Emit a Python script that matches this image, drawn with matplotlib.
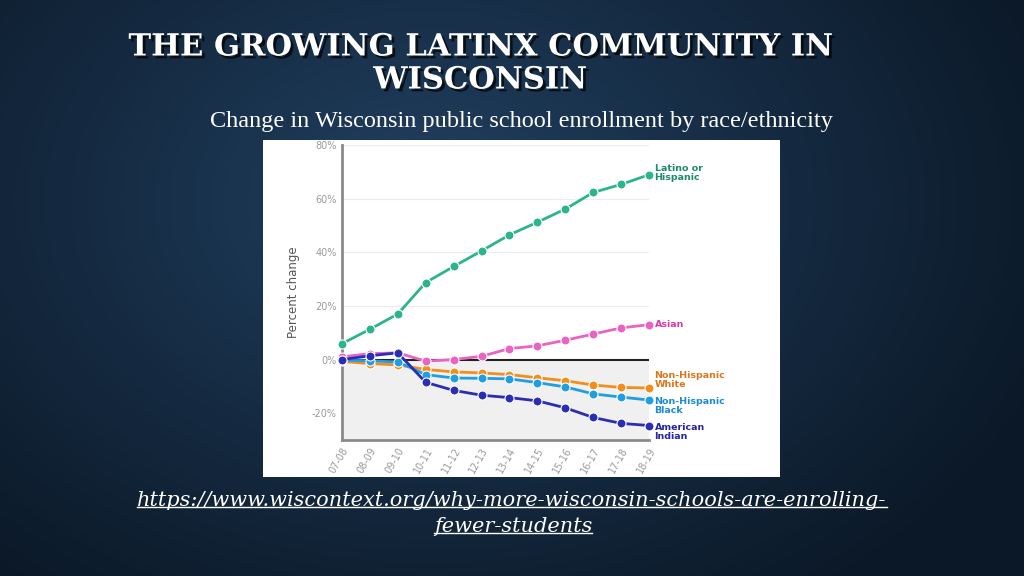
import numpy as np
import matplotlib
matplotlib.use("Agg")
import matplotlib.pyplot as plt
import matplotlib.patheffects as pe
from matplotlib.patches import Rectangle

# data (percent change since 07-08)
years = ["07-08", "08-09", "09-10", "10-11", "11-12", "12-13",
         "13-14", "14-15", "15-16", "16-17", "17-18", "18-19"]
latino = [5.9, 11.3, 17.0, 28.7, 34.7, 40.5, 46.5, 51.2, 56.1, 62.3, 65.3, 68.9]
asian = [1.0, 2.2, 2.5, -0.6, 0.0, 1.2, 4.1, 5.1, 7.2, 9.5, 11.8, 13.0]
white = [-0.7, -1.5, -2.0, -3.7, -4.6, -5.0, -5.6, -6.8, -7.9, -9.5, -10.4, -10.6]
black = [-0.2, -0.5, -0.9, -5.6, -6.9, -7.0, -7.2, -8.6, -10.2, -12.8, -14.0, -15.1]
am_indian = [0.0, 1.4, 2.5, -8.5, -11.5, -13.3, -14.2, -15.4, -18.0, -21.6, -23.8, -24.6]

y_ticks = [-20, 0, 20, 40, 60, 80]

series = [
    # values, line colour, label, label colour, label offset (pt)
    (white, "#f28e1c", "Non-Hispanic\nWhite", "#d9781a", 5.5),
    (black, "#1f9ee3", "Non-Hispanic\nBlack", "#1b8bd4", -4.5),
    (asian, "#ea63c0", "Asian", "#d93aa9", 0),
    (am_indian, "#2b2db3", "American\nIndian", "#2626a3", -4.5),
    (latino, "#2bb48e", "Latino or\nHispanic", "#1a8d6b", 1.5),
]

fig = plt.figure(figsize=(10.24, 5.76), dpi=100)

# slide background: dark blue radial gradient
bg = fig.add_axes([0, 0, 1, 1])
gx, gy = np.meshgrid(np.linspace(0, 1, 512), np.linspace(0, 1, 288))
r = np.sqrt(((gx - 0.42) * 1.3) ** 2 + ((gy - 0.35) * 1.0) ** 2)
r = np.clip(r / 0.85, 0, 1) ** 0.9
c_in = np.array([0x22, 0x42, 0x63]) / 255
c_out = np.array([0x0b, 0x18, 0x27]) / 255
img = c_in[None, None, :] * (1 - r[..., None]) + c_out[None, None, :] * r[..., None]
bg.imshow(img, extent=[0, 1, 0, 1], aspect="auto", origin="upper")
bg.set_xlim(0, 1)
bg.set_ylim(0, 1)
bg.axis("off")

# white panel holding the chart
fig.patches.append(Rectangle((263 / 1024, 1 - 477 / 576), 517 / 1024, 337 / 576,
                             transform=fig.transFigure, facecolor="white",
                             edgecolor="none", zorder=1))

# titles
shadow = [pe.withSimplePatchShadow(offset=(2, -2), shadow_rgbFace="black", alpha=0.7)]
fig.text(480 / 1024, 1 - 47 / 576, "THE GROWING LATINX COMMUNITY IN", color="white",
         fontsize=22, fontweight="bold", family="DejaVu Serif", ha="center", va="center",
         path_effects=shadow)
fig.text(480 / 1024, 1 - 80 / 576, "WISCONSIN", color="white",
         fontsize=22, fontweight="bold", family="DejaVu Serif", ha="center", va="center",
         path_effects=shadow)
fig.text(521 / 1024, 1 - 121 / 576,
         "Change in Wisconsin public school enrollment by race/ethnicity",
         color="white", fontsize=17.5, family="Liberation Serif", ha="center", va="center")

# chart
ax = fig.add_axes([342 / 1024, 1 - 440 / 576, 307 / 1024, 295 / 576], zorder=2)
ax.set_facecolor("none")
x = np.arange(len(years))
ax.set_xlim(0, len(years) - 1)
ax.set_ylim(-30, 80)
ax.axhspan(-30, 0, color="#f0f0f0", zorder=0)
for t in y_ticks[2:]:
    ax.axhline(t, color="#ececec", lw=0.8, zorder=0.5)
ax.axhline(0, color="#222222", lw=1.5, zorder=1)

for vals, col, lab, lcol, off in series:
    ax.plot(x, vals, color=col, lw=2, marker="o", ms=6.5, mec="white", mew=0.8,
            zorder=3, clip_on=False)
    ax.annotate(lab, xy=(x[-1], vals[-1]), xytext=(4, off), textcoords="offset points",
                color=lcol, fontsize=6.8, fontweight="bold", ha="left", va="center",
                linespacing=1.0, annotation_clip=False)

for s in ["top", "right"]:
    ax.spines[s].set_visible(False)
for s in ["left", "bottom"]:
    ax.spines[s].set_color("#8a8a8a")
    ax.spines[s].set_linewidth(2)
ax.set_yticks(y_ticks)
ax.set_yticklabels([f"{t}%" for t in y_ticks])
ax.set_xticks(x)
ax.set_xticklabels(years, rotation=60, ha="right", rotation_mode="anchor")
ax.tick_params(length=0, labelsize=7, colors="#9a9a9a", pad=4)
ax.set_ylabel("Percent change", fontsize=8.5, color="#555555", labelpad=8)

# source link, underlined
url1 = "https://www.wiscontext.org/why-more-wisconsin-schools-are-enrolling-"
url2 = "fewer-students"
t1 = fig.text(512 / 1024, 1 - 500 / 576, url1, color="white", fontsize=15,
              style="italic", family="DejaVu Serif", ha="center", va="center")
t2 = fig.text(513 / 1024, 1 - 526 / 576, url2, color="white", fontsize=15,
              style="italic", family="DejaVu Serif", ha="center", va="center")
renderer = fig.canvas.get_renderer()
for t in (t1, t2):
    bb = t.get_window_extent(renderer).transformed(fig.transFigure.inverted())
    fig.add_artist(plt.Line2D([bb.x0, bb.x1], [bb.y0 + 0.004, bb.y0 + 0.004],
                              transform=fig.transFigure, color="white", lw=1))

fig.savefig("out.png", dpi=100)
